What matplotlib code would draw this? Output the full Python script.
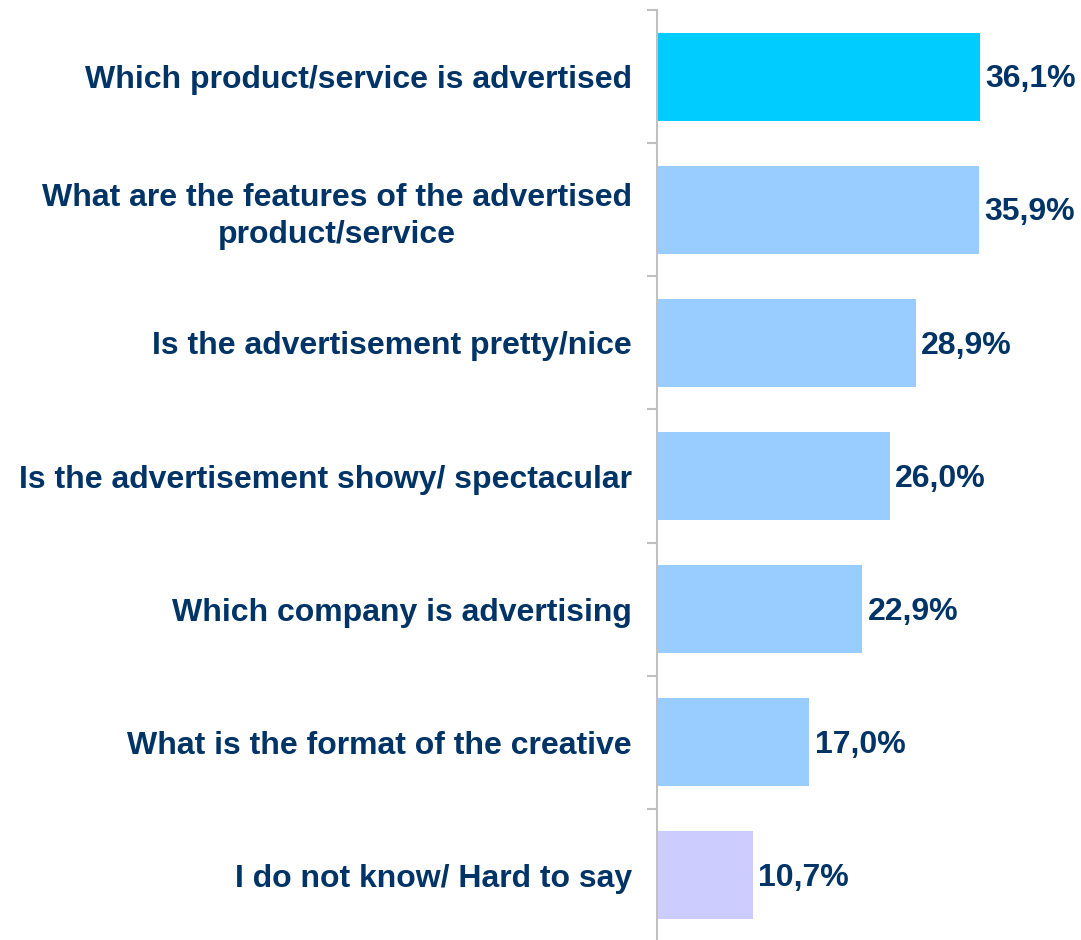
import numpy as np
import matplotlib.pyplot as plt

# survey answers, top to bottom
categories = [
    "Which product/service is advertised",
    "What are the features of the advertised\nproduct/service",
    "Is the advertisement pretty/nice",
    "Is the advertisement showy/ spectacular",
    "Which company is advertising",
    "What is the format of the creative",
    "I do not know/ Hard to say",
]
values = [36.1, 35.9, 28.9, 26.0, 22.9, 17.0, 10.7]
value_labels = ["36,1%", "35,9%", "28,9%", "26,0%", "22,9%", "17,0%", "10,7%"]
colors = ["#00CCFF"] + ["#99CCFF"] * 5 + ["#CCCCFF"]

text_color = "#003366"
grey = "#C0C0C0"
fs = 23

plt.rcParams['font.family'] = ['Liberation Sans', 'DejaVu Sans']

fig = plt.figure(figsize=(10.81, 9.40), dpi=100)
ax = fig.add_axes([657 / 1081, 1 - 942 / 940, 421 / 1081, 932 / 940])

n = len(categories)
y = np.arange(n)
ax.barh(y, values, height=0.66, color=colors, edgecolor="none")
for yi, v, lab in zip(y, values, value_labels):
    ax.text(v + 0.6, yi + 0.02, lab, va="center", ha="left", fontsize=fs,
            fontweight="bold", color=text_color)

ax.set_ylim(n - 0.5, -0.5)
ax.set_xlim(0, 47)

ax.set_yticks(y)
ax.set_yticklabels(categories, fontsize=fs, fontweight="bold", color=text_color,
                   multialignment="center", linespacing=1.3)
ax.tick_params(axis="y", which="major", length=0, pad=18)
ax.set_yticks(np.arange(-0.5, n, 1.0), minor=True)
ax.tick_params(axis="y", which="minor", length=7, width=1.5, color=grey, direction="out")
ax.set_xticks([])

for s in ["top", "right", "bottom"]:
    ax.spines[s].set_visible(False)
ax.spines["left"].set_color(grey)
ax.spines["left"].set_linewidth(1.5)

fig.savefig("out.png", dpi=100)
